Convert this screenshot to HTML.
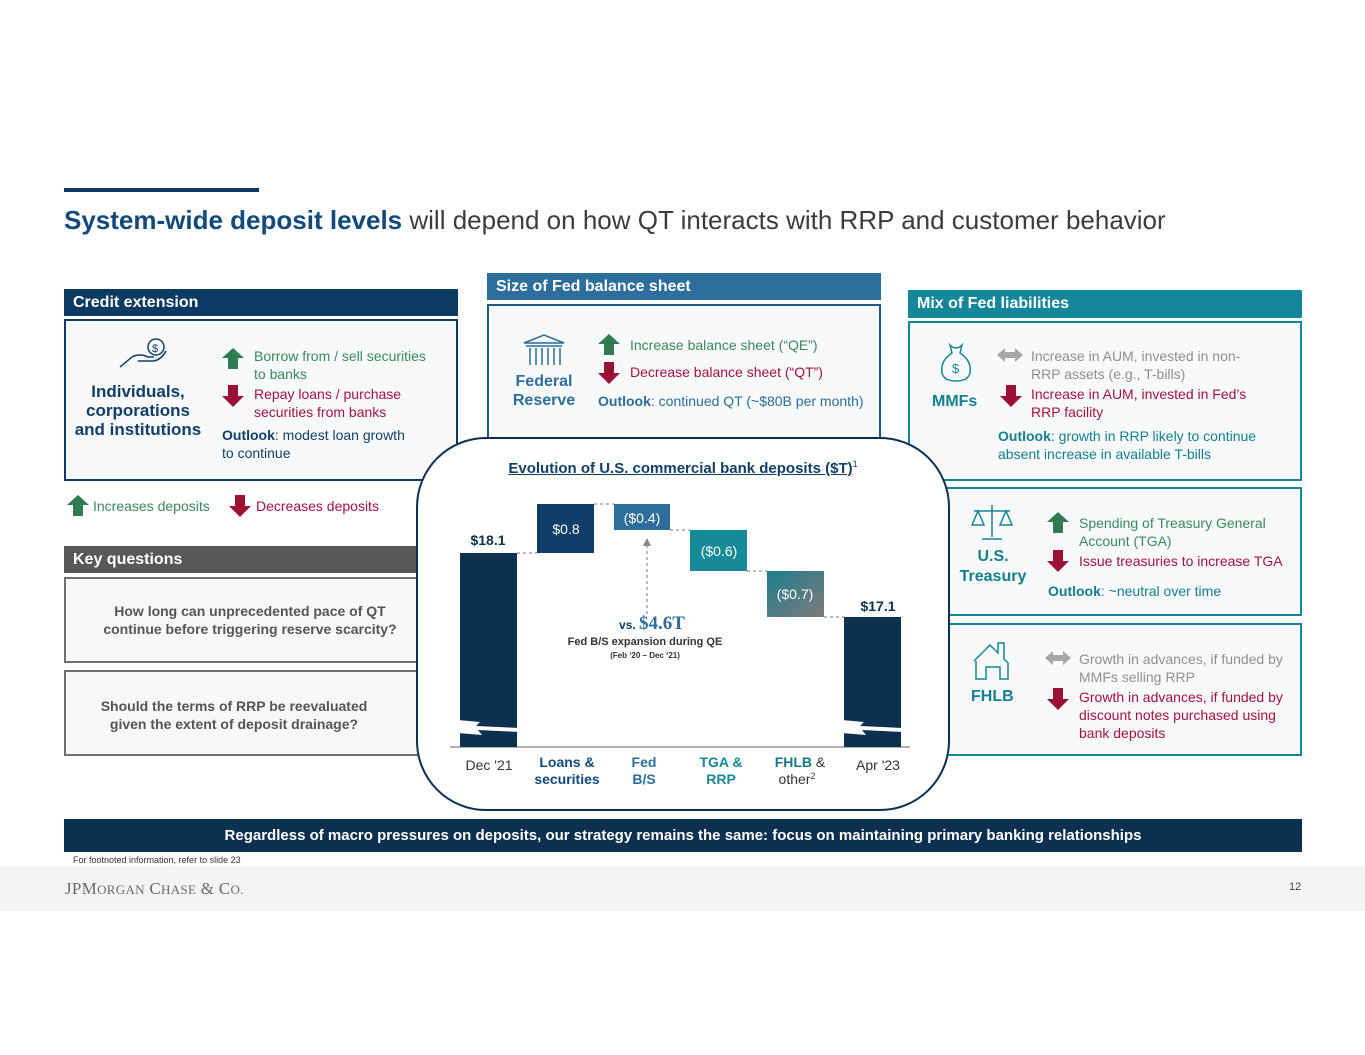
<!DOCTYPE html>
<html><head><meta charset="utf-8"><style>
*{margin:0;padding:0;box-sizing:border-box}
body{width:1365px;height:1055px;background:#fff;position:relative;overflow:hidden;font-family:"Liberation Sans",Arial,sans-serif}
.a{position:absolute}
.hd{position:absolute;color:#fff;font-weight:bold;font-size:16px;padding-left:9px;line-height:27px}
.bx{position:absolute;background:#f7f9fb;border:2.5px solid #0d3a63}
.t{position:absolute;font-size:14px;line-height:18px}
.g{color:#3a8a5a}.r{color:#a8123e}.gy{color:#8f8f8f}
.nv{color:#123f6a}.tl{color:#14808e}
b{font-weight:bold}
.c{text-align:center}
</style></head><body>
<svg width="0" height="0" style="position:absolute"><defs>
<g id="up"><polygon points="11,0 22,10 16,10 16,21 6,21 6,10 0,10" fill="#2f7c53"/></g>
<g id="dn"><polygon points="6,0 16,0 16,11 22,11 11,22 0,11 6,11" fill="#9c1035"/></g>
<g id="lr"><polygon points="0,7 8,0 8,4 18,4 18,0 26,7 18,14 18,10 8,10 8,14" fill="#a7a7a7"/></g>
</defs></svg>

<div class="a" style="left:64px;top:188px;width:195px;height:4px;background:#0d3a63"></div>
<div class="a" style="left:64px;top:205px;font-size:26px;color:#3c3c3c;white-space:nowrap"><b style="color:#124a7c">System-wide deposit levels</b> will depend on how QT interacts with RRP and customer behavior</div>

<!-- Credit extension -->
<div class="hd" style="left:64px;top:289px;width:394px;height:27px;background:#0d3a63">Credit extension</div>
<div class="bx" style="left:64px;top:319px;width:394px;height:162px"></div>
<svg class="a" style="left:118px;top:337px" width="50" height="40"><path d="M2,30 L14,20 Q22,16 30,20 L36,20 M20,24 L36,24 Q44,22 48,14" fill="none" stroke="#123f6a" stroke-width="1.5"/><circle cx="38" cy="10" r="8" fill="none" stroke="#123f6a" stroke-width="1.5"/><text x="34" y="15" font-size="11" fill="#123f6a" font-family="Liberation Sans">$</text></svg>
<div class="t nv c" style="left:63px;top:382px;width:150px;font-size:17px;line-height:19px;font-weight:bold">Individuals,<br>corporations<br>and institutions</div>
<svg class="a" style="left:222px;top:348px" width="22" height="22"><use href="#up"/></svg>
<div class="t g" style="left:254px;top:347px">Borrow from / sell securities<br>to banks</div>
<svg class="a" style="left:222px;top:385px" width="22" height="22"><use href="#dn"/></svg>
<div class="t r" style="left:254px;top:385px">Repay loans / purchase<br>securities from banks</div>
<div class="t nv" style="left:222px;top:426px"><b>Outlook</b>: modest loan growth<br>to continue</div>

<svg class="a" style="left:67px;top:495px" width="22" height="22"><use href="#up"/></svg>
<div class="t g" style="left:93px;top:497px">Increases deposits</div>
<svg class="a" style="left:229px;top:495px" width="22" height="22"><use href="#dn"/></svg>
<div class="t r" style="left:256px;top:497px">Decreases deposits</div>

<!-- Key questions -->
<div class="hd" style="left:64px;top:546px;width:360px;height:27px;background:#585858">Key questions</div>
<div class="a" style="left:64px;top:577px;width:360px;height:86px;background:#f7f8f9;border:2px solid #707070"></div>
<div class="t c" style="left:80px;top:602px;width:340px;font-weight:bold;color:#555">How long can unprecedented pace of QT<br>continue before triggering reserve scarcity?</div>
<div class="a" style="left:64px;top:670px;width:360px;height:86px;background:#f7f8f9;border:2px solid #707070"></div>
<div class="t c" style="left:64px;top:697px;width:340px;font-weight:bold;color:#555">Should the terms of RRP be reevaluated<br>given the extent of deposit drainage?</div>

<!-- Size of Fed balance sheet -->
<div class="hd" style="left:487px;top:273px;width:394px;height:27px;background:#2d6e9c">Size of Fed balance sheet</div>
<div class="bx" style="left:487px;top:304px;width:394px;height:140px;border-color:#1f5b87"></div>
<svg class="a" style="left:522px;top:333px" width="44" height="36" fill="none" stroke="#2d6e9c" stroke-width="1.5"><path d="M2,10 L22,2 L42,10 Z M4,13 L40,13 M8,15 V32 M14,15 V32 M20,15 V32 M26,15 V32 M32,15 V32 M38,15 V32"/></svg>
<div class="t c" style="left:505px;top:372px;width:78px;font-size:16px;line-height:19px;font-weight:bold;color:#2d6e9c">Federal Reserve</div>
<svg class="a" style="left:598px;top:334px" width="22" height="22"><use href="#up"/></svg>
<div class="t g" style="left:630px;top:336px">Increase balance sheet (“QE”)</div>
<svg class="a" style="left:598px;top:362px" width="22" height="22"><use href="#dn"/></svg>
<div class="t r" style="left:630px;top:363px">Decrease balance sheet (“QT”)</div>
<div class="t" style="left:598px;top:392px;color:#2d6e9c"><b>Outlook</b>: continued QT (~$80B per month)</div>

<!-- Mix of Fed liabilities -->
<div class="hd" style="left:908px;top:290px;width:394px;height:28px;background:#16879a">Mix of Fed liabilities</div>
<div class="bx" style="left:908px;top:321px;width:394px;height:160px;border-color:#16879a"></div>
<svg class="a" style="left:938px;top:343px" width="36" height="40" fill="none" stroke="#16879a" stroke-width="1.5"><path d="M12,2 Q18,8 24,2 L22,10 Q34,18 32,30 Q30,38 18,38 Q6,38 4,30 Q2,18 14,10 Z"/><text x="14" y="30" font-size="13" fill="#16879a" stroke="none" font-family="Liberation Sans">$</text></svg>
<div class="t tl" style="left:932px;top:393px;font-size:16px;font-weight:bold">MMFs</div>
<svg class="a" style="left:997px;top:348px" width="26" height="14"><use href="#lr"/></svg>
<div class="t gy" style="left:1031px;top:347px">Increase in AUM, invested in non-<br>RRP assets (e.g., T-bills)</div>
<svg class="a" style="left:1000px;top:385px" width="22" height="22"><use href="#dn"/></svg>
<div class="t r" style="left:1031px;top:385px">Increase in AUM, invested in Fed’s<br>RRP facility</div>
<div class="t tl" style="left:998px;top:427px"><b>Outlook</b>: growth in RRP likely to continue<br>absent increase in available T-bills</div>

<div class="bx" style="left:938px;top:487px;width:364px;height:129px;border-color:#16879a"></div>
<svg class="a" style="left:970px;top:503px" width="44" height="38" fill="none" stroke="#16879a" stroke-width="1.5"><path d="M22,2 V34 M12,36 H32 M4,8 H40 M8,8 L2,22 H14 Z M36,8 L30,22 H42 Z"/></svg>
<div class="t tl c" style="left:948px;top:547px;width:90px;font-size:16px;line-height:20px;font-weight:bold">U.S.<br>Treasury</div>
<svg class="a" style="left:1047px;top:512px" width="22" height="22"><use href="#up"/></svg>
<div class="t g" style="left:1079px;top:514px">Spending of Treasury General<br>Account (TGA)</div>
<svg class="a" style="left:1047px;top:550px" width="22" height="22"><use href="#dn"/></svg>
<div class="t r" style="left:1079px;top:552px">Issue treasuries to increase TGA</div>
<div class="t tl" style="left:1048px;top:582px"><b>Outlook</b>: ~neutral over time</div>

<div class="bx" style="left:938px;top:623px;width:364px;height:133px;border-color:#16879a"></div>
<svg class="a" style="left:972px;top:641px" width="40" height="40" fill="none" stroke="#16879a" stroke-width="1.5"><path d="M2,20 L18,4 L26,12 V2 H32 V18 L36,22 V38 H28 V26 H14 V38 H4 V20"/></svg>
<div class="t tl" style="left:971px;top:688px;font-size:16px;font-weight:bold">FHLB</div>
<svg class="a" style="left:1045px;top:651px" width="26" height="14"><use href="#lr"/></svg>
<div class="t gy" style="left:1079px;top:650px">Growth in advances, if funded by<br>MMFs selling RRP</div>
<svg class="a" style="left:1047px;top:688px" width="22" height="22"><use href="#dn"/></svg>
<div class="t r" style="left:1079px;top:688px">Growth in advances, if funded by<br>discount notes purchased using<br>bank deposits</div>

<!-- Chart bubble -->
<div class="a" style="left:416px;top:437px;width:534px;height:374px;background:#fff;border:2.5px solid #0d3050;border-radius:70px"></div>
<div class="a c" style="left:416px;top:459px;width:534px;font-size:15px;font-weight:bold;color:#123f6a"><span style="text-decoration:underline">Evolution of U.S. commercial bank deposits ($T)</span><sup style="font-size:9px;font-weight:normal">1</sup></div>
<svg class="a" style="left:416px;top:437px" width="534" height="374" font-family="Liberation Sans">
<g transform="translate(-416,-437)">
<line x1="450" y1="747" x2="910" y2="747" stroke="#999" stroke-width="1.5"/>
<rect x="460" y="553" width="57" height="194" fill="#0d3050"/>
<polygon points="458,720 480,722 476,726 520,728 520,732 478,730 482,735 458,733" fill="#fff"/>
<rect x="537" y="504" width="57" height="49" fill="#0f3e68"/>
<rect x="614" y="504" width="56" height="26" fill="#2e6e9c"/>
<rect x="690" y="530" width="57" height="41" fill="#168a96"/>
<defs><linearGradient id="gg" x1="0" y1="0" x2="1" y2="1"><stop offset="0" stop-color="#1f7d8e"/><stop offset="1" stop-color="#7b7b7b"/></linearGradient></defs>
<rect x="767" y="571" width="57" height="46" fill="url(#gg)"/>
<rect x="844" y="617" width="57" height="130" fill="#0d3050"/>
<polygon points="842,720 864,722 860,726 903,728 903,732 862,730 866,735 842,733" fill="#fff"/>
<g stroke="#777" stroke-dasharray="3,3" stroke-width="1"><line x1="517" y1="553" x2="537" y2="553"/><line x1="594" y1="504" x2="614" y2="504"/><line x1="670" y1="530" x2="690" y2="530"/><line x1="747" y1="571" x2="767" y2="571"/><line x1="824" y1="617" x2="844" y2="617"/><line x1="647" y1="614" x2="647" y2="545"/></g>
<polygon points="643,546 651,546 647,538" fill="#888"/>
<g fill="#fff" font-size="14" text-anchor="middle"><text x="566" y="534">$0.8</text><text x="642" y="523">($0.4)</text><text x="719" y="556">($0.6)</text><text x="795" y="599">($0.7)</text></g>
<g fill="#0d3050" font-size="14" font-weight="bold" text-anchor="middle"><text x="488" y="545">$18.1</text><text x="878" y="611">$17.1</text></g>
<text x="652" y="629" text-anchor="middle" font-weight="bold"><tspan fill="#123f6a" font-size="12">vs. </tspan><tspan fill="#2e6e9c" font-size="19" font-family="Liberation Serif">$4.6T</tspan></text>
<text x="645" y="645" text-anchor="middle" font-size="11" font-weight="bold" fill="#333">Fed B/S expansion during QE</text>
<text x="645" y="658" text-anchor="middle" font-size="8" font-weight="bold" fill="#333">(Feb ‘20 – Dec ‘21)</text>
<g font-size="14" text-anchor="middle">
<text x="489" y="770" fill="#333">Dec '21</text>
<text x="567" y="767" fill="#124a7c" font-weight="bold">Loans &amp;</text><text x="567" y="784" fill="#124a7c" font-weight="bold">securities</text>
<text x="644" y="767" fill="#2e6e9c" font-weight="bold">Fed</text><text x="644" y="784" fill="#2e6e9c" font-weight="bold">B/S</text>
<text x="721" y="767" fill="#168a96" font-weight="bold">TGA &amp;</text><text x="721" y="784" fill="#168a96" font-weight="bold">RRP</text>
<text x="800" y="767" fill="#16788a"><tspan font-weight="bold">FHLB</tspan><tspan fill="#333"> &amp;</tspan></text><text x="797" y="784" fill="#333">other<tspan font-size="9" dy="-5">2</tspan></text>
<text x="878" y="770" fill="#333">Apr '23</text>
</g></g></svg>

<!-- bottom -->
<div class="a c" style="left:64px;top:819px;width:1238px;height:33px;background:#0d3050;color:#fff;font-weight:bold;font-size:15px;line-height:33px">Regardless of macro pressures on deposits, our strategy remains the same: focus on maintaining primary banking relationships</div>
<div class="a" style="left:73px;top:855px;font-size:9px;color:#333">For footnoted information, refer to slide 23</div>
<div class="a" style="left:0;top:866px;width:1365px;height:45px;background:#f3f4f6"></div>
<div class="a" style="left:65px;top:879px;font-family:'Liberation Serif',serif;font-size:17px;color:#6a6a6a;letter-spacing:0.3px">JPM<span style="font-size:13px">ORGAN</span> C<span style="font-size:13px">HASE</span> &amp; C<span style="font-size:13px">O.</span></div>
<div class="a" style="left:1289px;top:881px;font-size:11px;color:#444">12</div>
</body></html>
